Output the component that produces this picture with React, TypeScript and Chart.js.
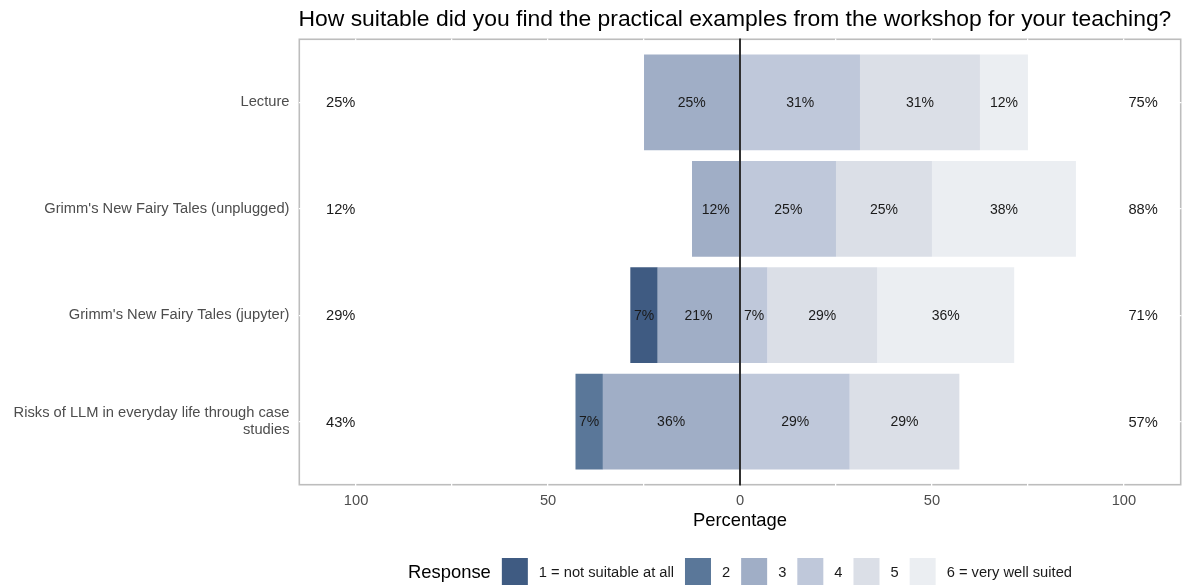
import React, { useEffect, useRef } from "react";
import { Chart, registerables } from "chart.js";

Chart.register(...registerables);

const FONT = "'Liberation Sans', Arial, Helvetica, sans-serif";

const TITLE = "How suitable did you find the practical examples from the workshop for your teaching?";
const X_TITLE = "Percentage";
const LEGEND_TITLE = "Response";

const categories = [
  "Lecture",
  "Grimm's New Fairy Tales (unplugged)",
  "Grimm's New Fairy Tales (jupyter)",
  "Risks of LLM in everyday life through case studies",
];
const categoryLabelLines = [
  ["Lecture"],
  ["Grimm's New Fairy Tales (unplugged)"],
  ["Grimm's New Fairy Tales (jupyter)"],
  ["Risks of LLM in everyday life through case", "studies"],
];

const levels = ["1 = not suitable at all", "2", "3", "4", "5", "6 = very well suited"];
const levelColors = ["#3f5b82", "#5a7799", "#a0aec6", "#bfc8da", "#dbdfe7", "#ebeef2"];

// Percentage of answers per response level, per category (same order as categories)
const level1 = [0, 0, 7.14, 0];
const level2 = [0, 0, 0, 7.14];
const level3 = [25, 12.5, 21.43, 35.71];
const level4 = [31.25, 25, 7.14, 28.57];
const level5 = [31.25, 25, 28.57, 28.57];
const level6 = [12.5, 37.5, 35.71, 0];

const levelValues = [level1, level2, level3, level4, level5, level6];
const negativeLevels = [0, 1, 2]; // levels 1-3 go to the left
const positiveLevels = [3, 4, 5];

const xGridValues = [-100, -75, -50, -25, 0, 25, 50, 75, 100];
const X_MIN = -115;
const X_MAX = 115;
const LOW_TOTAL_X = -104;
const HIGH_TOTAL_X = 105;

function fmtPct(v: number): string {
  const a = Math.abs(v);
  const f = Math.floor(a);
  let r = Math.round(a);
  if (Math.abs(a - f - 0.5) < 1e-9 && f % 2 === 0) r = f;
  return r + "%";
}

const panelPlugin = {
  id: "panelBorder",
  beforeDraw(chart: any) {
    const { ctx, chartArea: a } = chart;
    ctx.save();
    ctx.fillStyle = "#ffffff";
    ctx.fillRect(0, 0, chart.width, chart.height);
    ctx.strokeStyle = "#bdbdbd";
    ctx.lineWidth = 1.6;
    ctx.strokeRect(a.left + 0.8, a.top + 0.8, a.right - a.left - 1.6, a.bottom - a.top - 1.6);
    ctx.restore();
  },
};

const labelsPlugin = {
  id: "likertLabels",
  afterDatasetsDraw(chart: any) {
    const { ctx, chartArea: a } = chart;
    const xs = chart.scales.x;
    const ys = chart.scales.y;
    ctx.save();
    // zero line
    const x0 = xs.getPixelForValue(0);
    ctx.strokeStyle = "#1a1a1a";
    ctx.lineWidth = 1.8;
    ctx.beginPath();
    ctx.moveTo(x0, a.top);
    ctx.lineTo(x0, a.bottom);
    ctx.stroke();

    // segment labels
    ctx.fillStyle = "#1a1a1a";
    ctx.textAlign = "center";
    ctx.textBaseline = "middle";
    ctx.font = `14px ${FONT}`;
    chart.data.datasets.forEach((ds: any, di: number) => {
      const meta = chart.getDatasetMeta(di);
      meta.data.forEach((el: any, i: number) => {
        const raw = ds.data[i].x;
        if (!raw) return;
        const p = el.getProps(["x", "base", "y"], true);
        ctx.fillText(fmtPct(raw), (p.x + p.base) / 2, p.y + 1);
      });
    });

    // totals
    ctx.font = `14.7px ${FONT}`;
    categories.forEach((_, i) => {
      const low = negativeLevels.reduce((s, l) => s + levelValues[l][i], 0);
      const high = positiveLevels.reduce((s, l) => s + levelValues[l][i], 0);
      const y = ys.getPixelForValue(i + 1) + 1;
      ctx.fillText(fmtPct(low), xs.getPixelForValue(LOW_TOTAL_X), y);
      ctx.fillText(fmtPct(high), xs.getPixelForValue(HIGH_TOTAL_X), y);
    });
    ctx.restore();
  },
};

const legendPlugin = {
  id: "bottomLegend",
  afterDraw(chart: any) {
    const { ctx, chartArea: a } = chart;
    ctx.save();
    const boxW = 26;
    const boxH = 27;
    const gap = 11;
    ctx.font = `18.4px ${FONT}`;
    const titleW = ctx.measureText(LEGEND_TITLE).width;
    ctx.font = `14.7px ${FONT}`;
    const textW = levels.map((l) => ctx.measureText(l).width);
    const total = titleW + gap + textW.reduce((s, w) => s + boxW + gap + w, 0) + gap * (levels.length - 1);
    let x = (a.left + a.right) / 2 - total / 2;
    const cy = chart.height - 15.5;
    ctx.textBaseline = "middle";
    ctx.textAlign = "left";
    ctx.fillStyle = "#000000";
    ctx.font = `18.4px ${FONT}`;
    ctx.fillText(LEGEND_TITLE, x, cy + 1);
    x += titleW + gap;
    ctx.font = `14.7px ${FONT}`;
    levels.forEach((l, i) => {
      ctx.fillStyle = levelColors[i];
      ctx.fillRect(x, cy - boxH / 2, boxW, boxH);
      x += boxW + gap;
      ctx.fillStyle = "#1a1a1a";
      ctx.fillText(l, x, cy + 1);
      x += textW[i] + gap;
    });
    ctx.restore();
  },
};

export default function App() {
  const ref = useRef<HTMLCanvasElement | null>(null);

  useEffect(() => {
    if (!ref.current) return;
    const order = [...negativeLevels.slice().reverse(), ...positiveLevels]; // 3,2,1 then 4,5,6
    const datasets = order.map((li) => ({
      label: levels[li],
      data: categories.map((_, i) => ({
        x: negativeLevels.includes(li) ? -levelValues[li][i] : levelValues[li][i],
        y: i + 1,
      })),
      backgroundColor: levelColors[li],
      borderWidth: 0,
      categoryPercentage: 1,
      barPercentage: 0.9,
    }));

    const chart = new Chart(ref.current, {
      type: "bar",
      data: { datasets },
      plugins: [panelPlugin, labelsPlugin, legendPlugin],
      options: {
        indexAxis: "y",
        responsive: false,
        animation: false,
        layout: { padding: { top: 0, right: 1.5, bottom: 0, left: 0 } },
        scales: {
          x: {
            type: "linear",
            min: X_MIN,
            max: X_MAX,
            stacked: true,
            grid: { color: "#ffffff", lineWidth: 1.3, drawTicks: false },
            border: { display: false },
            afterBuildTicks: (s: any) => {
              s.ticks = xGridValues.map((v) => ({ value: v }));
            },
            afterFit: (s: any) => {
              s.height = 101.5;
            },
            ticks: {
              autoSkip: false,
              maxRotation: 0,
              padding: 7,
              color: "#4d4d4d",
              font: { family: FONT, size: 14.7 },
              callback: (v: any) => (Number(v) % 50 === 0 ? String(Math.abs(Number(v))) : ""),
            },
            title: {
              display: true,
              text: X_TITLE,
              color: "#000000",
              font: { family: FONT, size: 18.4 },
              padding: { top: 0, bottom: 55 },
            },
          },
          y: {
            type: "linear",
            reverse: true,
            min: 0.4,
            max: 4.6,
            offset: false,
            stacked: true,
            grid: { color: "#ffffff", lineWidth: 1.3, drawTicks: false, offset: false },
            border: { display: false },
            afterBuildTicks: (s: any) => {
              s.ticks = categories.map((_, i) => ({ value: i + 1 }));
            },
            afterFit: (s: any) => {
              s.width = 298.5;
            },
            ticks: {
              autoSkip: false,
              padding: 9,
              color: "#4d4d4d",
              font: { family: FONT, size: 14.7, lineHeight: 1.17 },
              callback: (v: any) => categoryLabelLines[Number(v) - 1] ?? "",
            },
          },
        },
        plugins: {
          legend: { display: false },
          tooltip: { enabled: false },
          title: {
            display: true,
            text: TITLE,
            align: "start",
            fullSize: false,
            color: "#000000",
            font: { family: FONT, size: 22.9, weight: "normal" },
            padding: { top: 6, bottom: 5 },
          },
        },
      },
    } as any);
    return () => chart.destroy();
  }, []);

  return (
    <div style={{ position: "fixed", left: 0, top: 0, width: 1183, height: 587, background: "#fff" }}>
      <canvas ref={ref} width={1183} height={587} style={{ display: "block" }} />
    </div>
  );
}
